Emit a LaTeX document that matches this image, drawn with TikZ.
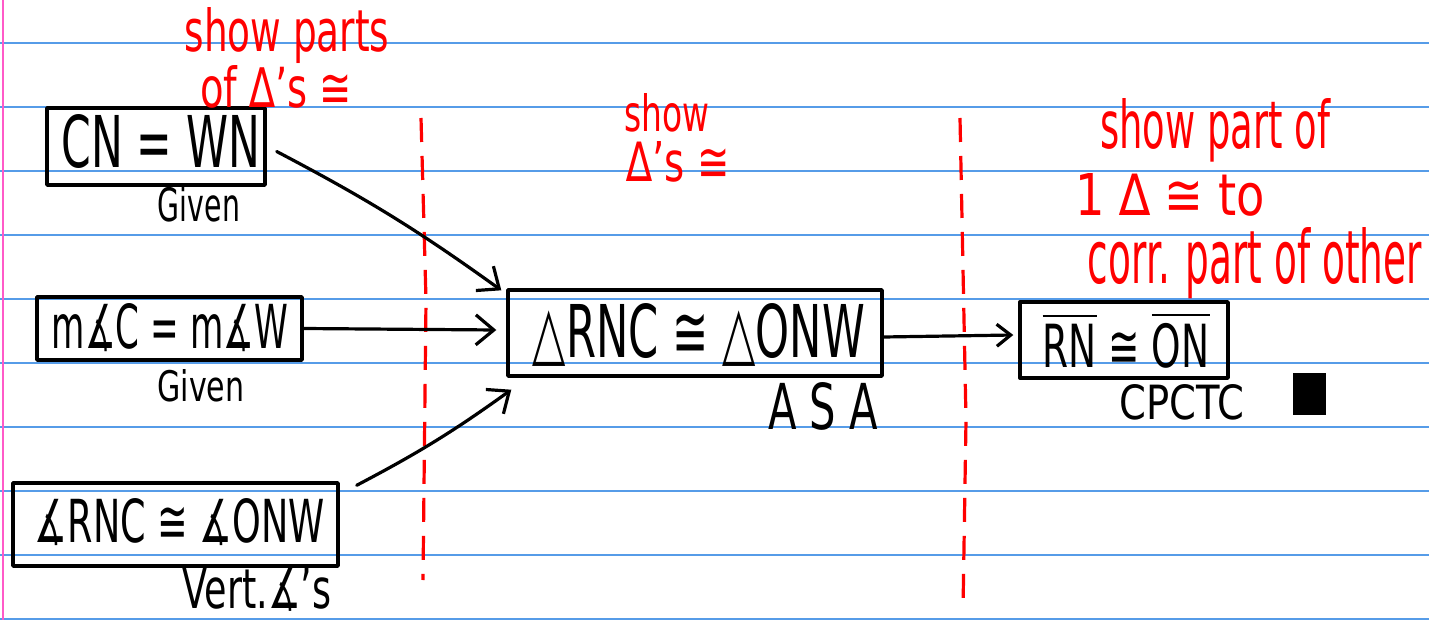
\documentclass[tikz,border=0pt]{standalone}
\usepackage{fontspec}
\setmainfont{DejaVu Sans}
\usepackage{graphicx}
\usetikzlibrary{arrows.meta}
\newcommand{\hw}[3]{\resizebox{#1pt}{#2pt}{#3}}
\definecolor{rulecol}{RGB}{86,156,232}
\definecolor{margincol}{RGB}{255,90,200}
\definecolor{pen}{RGB}{255,0,0}
\begin{document}
\begin{tikzpicture}[x=1pt,y=-1pt,
  box/.style={draw=black, line width=3.4pt, inner sep=0pt, line join=round},
  txt/.style={inner sep=0pt, text=black},
  rtxt/.style={inner sep=0pt, text=pen},
  arr/.style={line width=3.2pt, line cap=round, -{Straight Barb[length=18pt,width=30pt]}},
  sep/.style={draw=pen, line width=3.2pt, dash pattern=on 24pt off 14pt}]
\useasboundingbox (0,0) rectangle (1429,620);
\fill[white] (0,0) rectangle (1429,620);
% notebook rules
\foreach \yy in {43,107,...,619} {\draw[rulecol, line width=2pt] (0,\yy) -- (1429,\yy);}
\draw[margincol, line width=2pt] (3,0) -- (3,620);
% separators
\draw[sep] (421,118) -- (426,300) -- (423,580);
\draw[sep] (960,118) -- (966,420) -- (963,610);
% boxes
\node[box, minimum width=218pt, minimum height=77pt] (A) at (156,146.5) {};
\node[box, minimum width=265pt, minimum height=63pt] (B) at (169.5,328.5) {};
\node[box, minimum width=325pt, minimum height=83pt] (C) at (175.5,524.5) {};
\node[box, minimum width=374pt, minimum height=86pt] (D) at (695,333) {};
\node[box, minimum width=208pt, minimum height=76pt] (E) at (1124,340) {};
% box texts
\node[txt] (tA) at (161,141.5) {\hw{198}{53}{CN = WN}};
\node[txt] (tB) at (170,327.5) {\hw{236}{45}{m∡C = m∡W}};
\node[txt] (tC) at (180,522) {\hw{290}{44}{∡RNC ≅ ∡ONW}};
\node[txt] (tD) at (699,335) {\hw{332}{54}{△RNC ≅ △ONW}};
\node[txt] (tE) at (1126,340) {\hw{167}{56}{$\overline{\hbox{RN}}$ ≅ $\overline{\hbox{ON}}$}};
% reasons
\node[txt] (gA) at (199,204.5) {\hw{82}{35}{Given}};
\node[txt] (gB) at (201,386) {\hw{87}{32}{Given}};
\node[txt] (gC) at (257,590) {\hw{149}{40}{Vert.∡'s}};
\node[txt] (gD) at (823,406) {\hw{110}{47}{A S A}};
\node[txt] (gE) at (1182,402) {\hw{125}{35}{CPCTC}};
\node[fill=black, draw=black, line width=2pt, minimum width=31pt, minimum height=40pt, inner sep=0pt] (qed) at (1309.5,394) {};
% red notes
\node[rtxt] (r1) at (287,36) {\hw{205}{44}{show parts}};
\node[rtxt] (r2) at (276,87) {\hw{152}{42}{of ∆'s ≅}};
\node[rtxt] (r3) at (667,113) {\hw{85}{38}{show}};
\node[rtxt] (r4) at (678,162) {\hw{103}{40}{∆'s ≅}};
\node[rtxt] (r5) at (1215,130) {\hw{230}{50}{show part of}};
\node[rtxt] (r6) at (1170,195) {\hw{190}{42}{1 ∆ ≅ to}};
\node[rtxt] (r7) at (1255,263) {\hw{334}{56}{corr. part of other}};
% connectors
\draw[arr] ([xshift=10pt,yshift=-5pt]A.east) to[bend left=4] ([xshift=-5pt,yshift=-2pt]D.north west);
\draw[arr] (B.east) -- ([xshift=-10pt,yshift=3pt]D.west);
\draw[arr] ([xshift=17pt,yshift=-4pt]C.north east) to[bend right=4] ([xshift=5pt,yshift=-12pt]D.south west);
\draw[arr, -{Straight Barb[length=14pt,width=22pt]}] ([yshift=-4pt]D.east) -- ([xshift=-5pt,yshift=5pt]E.west);
\end{tikzpicture}
\end{document}
